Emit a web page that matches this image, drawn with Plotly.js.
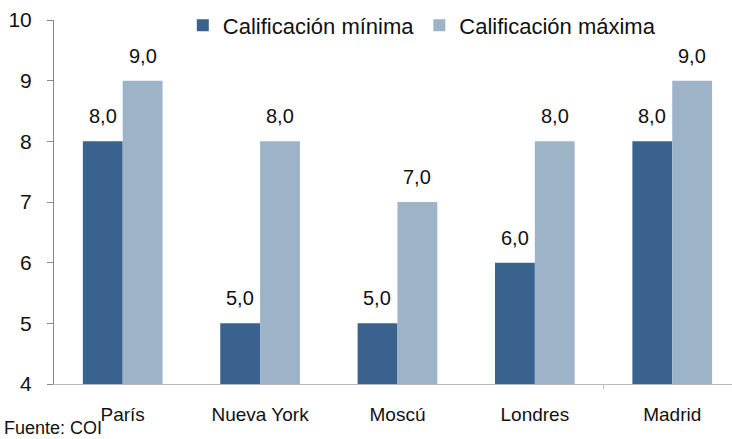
<!DOCTYPE html>
<html><head><meta charset="utf-8">
<script src="https://cdn.plot.ly/plotly-3.0.1.min.js"></script>
<style>body{margin:0;padding:0;background:#fff}#c{width:732px;height:439px}</style>
</head><body><div id="c"></div>
<script>
const categories = ["París", "Nueva York", "Moscú", "Londres", "Madrid"];
const minScores = [8, 5, 5, 6, 8];
const maxScores = [9, 8, 7, 8, 9];
const seriesNames = ["Calificación mínima", "Calificación máxima"];
const colors = ["#39638E", "#9CB3C8"];
const fmt = v => v.toFixed(1).replace(".", ",");

const traces = [
  {type: "bar", name: seriesNames[0], x: categories, y: minScores, marker: {color: colors[0]}, hoverinfo: "y"},
  {type: "bar", name: seriesNames[1], x: categories, y: maxScores, marker: {color: colors[1]}, hoverinfo: "y"}
];

const labelFont = {family: "Liberation Sans, Arial", size: 20, color: "#111"};
const annotations = [];
categories.forEach((c, i) => {
  annotations.push({x: c, y: minScores[i], text: fmt(minScores[i]), xshift: -20, yshift: 25, showarrow: false, font: labelFont});
  annotations.push({x: c, y: maxScores[i], text: fmt(maxScores[i]), xshift: 20, yshift: 25, showarrow: false, font: labelFont});
});
annotations.push({xref: "paper", yref: "paper", x: 0, y: 0, xanchor: "left", yanchor: "top", xshift: -51, yshift: -33, borderpad: 0, text: "Fuente: COI", showarrow: false, font: {family: "Liberation Sans, Arial", size: 18, color: "#111"}});

const layout = {
  width: 732, height: 439,
  margin: {l: 54, r: 0, t: 20, b: 55},
  paper_bgcolor: "#fff", plot_bgcolor: "#fff",
  font: {family: "Liberation Sans, Arial, sans-serif", color: "#111"},
  barmode: "group", bargap: 0.42, bargroupgap: 0,
  showlegend: true,
  legend: {orientation: "h", x: 0.19, y: 0.985, xanchor: "left", yanchor: "middle", font: {size: 22, color: "#111"}, itemwidth: 30, bgcolor: "rgba(0,0,0,0)", borderwidth: 0},
  xaxis: {type: "category", range: [-0.5, 4.435], showline: true, linecolor: "#bbbbbb", linewidth: 1, ticks: "", tickfont: {size: 19, color: "#111"}, ticklabelstandoff: 13, showgrid: false, zeroline: false, fixedrange: true},
  yaxis: {range: [4, 10], dtick: 1, showline: true, linecolor: "#888888", linewidth: 1, ticks: "outside", ticklen: 6, tickcolor: "#888888", tickfont: {size: 21, color: "#111"}, ticklabelstandoff: 11, showgrid: false, zeroline: false, fixedrange: true},
  annotations: annotations,
  shapes: [{type: "line", xref: "x", yref: "paper", x0: 3.5, x1: 3.5, y0: 0, y1: -0.014, line: {color: "#bbbbbb", width: 1}}]
};
Plotly.newPlot("c", traces, layout, {displayModeBar: false, staticPlot: true});
</script></body></html>
